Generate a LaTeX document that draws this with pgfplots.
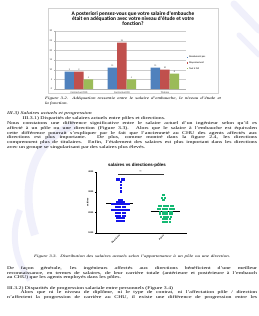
\documentclass[border=0pt]{standalone}
\usepackage{fontspec}
\setmainfont{Liberation Serif}
\newfontfamily\calf{Carlito}
\newfontfamily\arif{Liberation Sans}
\usepackage{graphicx}
\usepackage{pgfplots}
\pgfplotsset{compat=1.18}
\definecolor{xblue}{HTML}{4F81BD}
\definecolor{xred}{HTML}{C0504D}
\definecolor{xgreen}{HTML}{9BBB59}
\definecolor{pblue}{RGB}{20,20,235}
\definecolor{pgreen}{RGB}{20,185,115}
\definecolor{wm}{RGB}{240,240,251}
\newcommand\J[1]{\scalebox{1}[0.72]{\hbox to 500pt{#1}}}
\newcommand\N[1]{\scalebox{1}[0.72]{#1}}
\begin{document}
\begin{tikzpicture}[txt/.style={anchor=base west, inner sep=0pt, font=\fontsize{11.6}{12}\selectfont}]
\useasboundingbox (0,0) rectangle (518pt,-632pt);
\clip (0,0) rectangle (518pt,-632pt);
\fill[white] (0,0) rectangle (518pt,-632pt);
% faint watermark
\draw[wm, line width=14pt, line cap=round] (468pt,-8pt) -- (518pt,-60pt);
\draw[wm, line width=10pt, line cap=round] (478pt,-70pt) -- (518pt,-110pt);
\draw[wm, line width=16pt] (150pt,-250pt) .. controls (60pt,-280pt) and (40pt,-380pt) .. (70pt,-470pt);
\draw[wm, line width=12pt] (40pt,-420pt) .. controls (20pt,-470pt) and (30pt,-520pt) .. (60pt,-560pt);
% ---------- bar chart frame and title
\draw[gray!35, line width=0.6pt] (96pt,-16pt) rectangle (436pt,-186pt);
\node[font=\calf\bfseries\fontsize{10.8}{10.6}\selectfont, align=center, anchor=north, inner sep=0pt] at (266pt,-23pt)
  {A posteriori pensez-vous que votre salaire d'embauche\\était en adéquation avec votre niveau d'étude et votre\\fonction?};
\begin{axis}[at={(110pt,-178pt)}, anchor=south west, scale only axis,
  width=262pt, height=116pt,
  ymin=0, ymax=30, ytick={0,5,...,30},
  xmin=-0.558, xmax=2.49,
  xtick={0,1,2}, xticklabels={Contractuel CDD, Contractuel CDI, Titulaire},
  minor xtick={0.5,1.5},
  ybar=0pt, bar width=19pt,
  axis x line*=bottom, axis y line*=left,
  axis line style={gray!60, line width=0.5pt},
  ymajorgrids, grid style={gray!40, line width=0.4pt},
  tick align=outside, major tick length=2pt, minor tick length=3pt,
  xtick style={draw=none}, minor tick style={draw=gray!60},
  ytick style={gray!60},
  /pgf/number format/assume math mode=true,
  ticklabel style={font=\calf\fontsize{5}{5}\selectfont, text=black!80},
  xticklabel style={yshift=1pt},
  nodes near coords,
  every node near coord/.append style={font=\calf\fontsize{4.5}{5}\selectfont, text=black!80, yshift=-1pt},
  legend style={at={(1.005,0.585)}, anchor=north west, draw=none, fill=none,
    font=\calf\fontsize{5}{5}\selectfont, row sep=2.6pt, inner sep=0pt},
  legend cell align=left,
  legend image code/.code={\fill[#1] (0pt,-1.3pt) rectangle (2.6pt,1.3pt);},
  clip=false]
\addplot[fill=xblue, draw=none] coordinates {(0,9) (1,11) (2,11)};
\addplot[fill=xred, draw=none] coordinates {(0,9) (1,24) (2,10)};
\addplot[fill=xgreen, draw=none] coordinates {(0,5) (1,5) (2,8)};
\legend{Absolument pas, Moyennement, Tout à fait}
\end{axis}
% caption 3.2
\node[txt, font=\itshape\fontsize{10}{10}\selectfont] at (90pt,-198pt) {\scalebox{1}[0.72]{\hbox to 352pt{Figure 3.2. Adéquation ressentie entre le salaire d'embauche, le niveau d'étude et}}};
\node[txt, font=\itshape\fontsize{10}{10}\selectfont] at (90pt,-208pt) {\N{la fonction.}};
% ---------- text
\node[txt, font=\itshape\fontsize{11.6}{12}\selectfont] at (14pt,-229pt) {\N{III.3) Salaires actuels et progression}};
\node[txt] at (45pt,-239.4pt) {\N{III.3.1) Disparités de salaires actuels entre pôles et directions.}};
\node[txt] at (14pt,-249.6pt) {\J{Nous constatons une différence significative entre le salaire actuel d'un ingénieur selon qu'il es}};
\node[txt] at (14pt,-259pt) {\J{affecté à un pôle ou une direction (Figure 3.3). Alors que le salaire à l'embauche est équivalen}};
\node[txt] at (14pt,-268.4pt) {\J{cette différence pourrait s'expliquer par le fait que l'ancienneté au CHU des agents affectés aux}};
\node[txt] at (14pt,-277.8pt) {\J{directions est plus importante. De plus, comme montré dans la figure 2.4, les directions}};
\node[txt] at (14pt,-287.2pt) {\J{comprennent plus de titulaires. Enfin, l'étalement des salaires est plus important dans les directions}};
\node[txt] at (14pt,-296.6pt) {\N{avec un groupe se singularisant par des salaires plus élevés.}};
% ---------- scatter
\node[font=\arif\bfseries\fontsize{8.8}{9}\selectfont] at (274pt,-330pt) {salaires vs directions-pôles};
\begin{axis}[at={(193pt,-465.4pt)}, anchor=south west, scale only axis,
  width=181pt, height=122pt,
  xmin=0.489, xmax=2.545, ymin=1000, ymax=4000,
  axis x line*=bottom, axis y line*=left,
  ytick={1000,2000,3000,4000}, xtick={1,2}, xticklabels={Directions,Pôles},
  tick align=outside, major tick length=2.5pt,
  axis line style={black, line width=0.7pt}, tick style={black, line width=0.6pt},
  /pgf/number format/assume math mode=true,
  /pgf/number format/set thousands separator={},
  ticklabel style={font=\arif\bfseries\fontsize{4.5}{5}\selectfont},
  x tick label style={rotate=45, anchor=north east, inner sep=1pt},
  ylabel={salaires},
  every axis y label/.style={at={(axis description cs:-0.1,0.5)}, rotate=90, anchor=center, font=\arif\bfseries\fontsize{4.5}{5}\selectfont},
  clip=false]
\addplot[only marks, mark=square*, mark size=1.05pt, mark options={draw=pblue, fill=pblue, line width=0.1pt}] coordinates {
(0.9465,3640) (0.9995,3640) (1.0525,3640) (1.1055,3640)
(1.04,3500) (1.04,3360) (1.04,3200) (1.04,3050)
(0.9935,2650) (1.0465,2650)
(0.9405,2540) (0.9935,2540) (1.0465,2540) (1.0995,2540)
(0.8345,2430) (0.8875,2430) (0.9405,2430) (0.9935,2430) (1.0465,2430) (1.0995,2430) (1.1525,2430) (1.2055,2430)
(0.914,2290) (0.967,2290) (1.02,2290) (1.073,2290) (1.126,2290)
(0.8345,2150) (0.8875,2150) (0.9405,2150) (0.9935,2150) (1.0465,2150) (1.0995,2150) (1.1525,2150) (1.2055,2150)
(0.914,2000) (0.967,2000) (1.02,2000) (1.073,2000) (1.126,2000)
(0.914,1860) (0.967,1860) (1.02,1860) (1.073,1860) (1.126,1860)
(0.9405,1730) (0.9935,1730) (1.0465,1730) (1.0995,1730)
(0.9405,1600) (0.9935,1600) (1.0465,1600) (1.0995,1600)
};
\addplot[only marks, mark=square*, mark size=1.05pt, mark options={draw=pgreen, fill=pgreen, line width=0.1pt}] coordinates {
(2.0,2890)
(1.9735,2750) (2.0265,2750)
(2.0,2610)
(1.901,2320) (1.954,2320) (2.007,2320) (2.06,2320) (2.113,2320) (2.166,2320) (2.219,2320)
(1.8745,2190) (1.9275,2190) (1.9805,2190) (2.0335,2190) (2.0865,2190) (2.1395,2190) (2.1925,2190) (2.2455,2190)
(1.9275,2060) (1.9805,2060) (2.0335,2060) (2.0865,2060) (2.1395,2060) (2.1925,2060)
(1.9275,1930) (1.9805,1930) (2.0335,1930) (2.0865,1930) (2.1395,1930) (2.1925,1930)
(1.954,1810) (2.007,1810) (2.06,1810) (2.113,1810) (2.166,1810)
(1.9805,1690) (2.0335,1690) (2.0865,1690) (2.1395,1690)
(1.9805,1570) (2.0335,1570) (2.0865,1570) (2.1395,1570)
};
\addplot[black, line width=0.6pt] coordinates {(0.705,2430) (1.318,2430)};
\addplot[black, line width=0.6pt] coordinates {(1.72,2070) (2.39,2070)};
\addplot[black!80, line width=0.7pt] coordinates {(0.98,3830) (0.98,3887) (2.0,3887) (2.0,3830)};
\node[font=\arif\bfseries\fontsize{4.5}{5}\selectfont] at (axis cs:1.49,3975) {**};
\end{axis}
% caption 3.3
\node[txt, font=\itshape\fontsize{10}{10}\selectfont] at (68pt,-514pt) {\scalebox{1}[0.72]{\hbox to 392pt{Figure 3.3. Distribution des salaires actuels selon l'appartenance à un pôle ou une direction.}}};
% ---------- text after
\node[txt] at (14pt,-538.6pt) {\J{De façon générale, les ingénieurs affectés aux directions bénéficient d'une meilleur}};
\node[txt] at (14pt,-548pt) {\J{reconnaissance, en termes de salaires, de leur carrière totale (antérieure et postérieure à l'embauch}};
\node[txt] at (14pt,-557.4pt) {\N{au CHU) que les agents employés dans les pôles.}};
\node[txt] at (14pt,-578pt) {\N{III.3.2) Disparités de progression salariale entre personnels (Figure 3.4)}};
\node[txt] at (41pt,-587.4pt) {\scalebox{1}[0.72]{\hbox to 473pt{Alors que ni le niveau de diplôme, ni le type de contrat, ni l'affectation pôle / direction}}};
\node[txt] at (14pt,-596.8pt) {\J{n'affectent la progression de carrière au CHU, il existe une différence de progression entre les}};
\end{tikzpicture}
\end{document}
